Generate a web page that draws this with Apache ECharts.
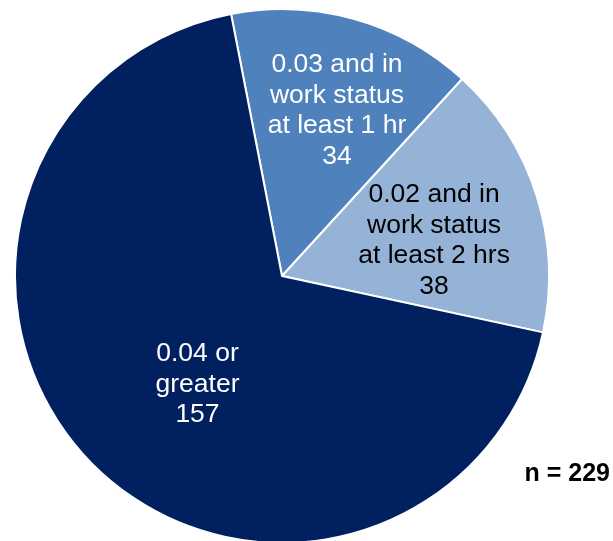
<!DOCTYPE html>
<html>
<head>
<meta charset="utf-8">
<script src="https://cdn.jsdelivr.net/npm/echarts@6/dist/echarts.min.js"></script>
<style>html,body{margin:0;padding:0;background:#fff}#c{width:613px;height:541px}</style>
</head>
<body>
<div id="c"></div>
<script>
const categories = ['0.03 and in\nwork status\nat least 1 hr', '0.02 and in\nwork status\nat least 2 hrs', '0.04 or\ngreater'];
const values = [34, 38, 157];
const colors = ['#4F81BD', '#95B3D7', '#002060'];
const labelColors = ['#ffffff', '#000000', '#ffffff'];
const totalLabel = 'n = 229';

const labelShift = [[18, -34], [22, 6], [13, 13]];

const chart = echarts.init(document.getElementById('c'), null, {renderer: 'canvas'});
chart.setOption({
  animation: false,
  backgroundColor: '#ffffff',
  graphic: [{
    type: 'text', right: 3, top: 462,
    style: {text: totalLabel, font: 'bold 25px "Liberation Sans", Arial, sans-serif', fill: '#000'}
  }],
  series: [{
    type: 'pie',
    center: [282, 276],
    radius: 267,
    startAngle: 101,
    clockwise: true,
    silent: true,
    data: categories.map((c, i) => ({
      name: c, value: values[i],
      itemStyle: {color: colors[i]},
      label: {color: labelColors[i]}
    })),
    itemStyle: {borderColor: '#ffffff', borderWidth: 2},
    label: {
      show: true, position: 'inside',
      formatter: p => p.name + '\n' + p.value,
      fontFamily: '"Liberation Sans", Arial, sans-serif',
      fontSize: 26.5, lineHeight: 30.5, align: 'center'
    },
    labelLine: {show: false},
    labelLayout: p => ({dx: labelShift[p.dataIndex][0], dy: labelShift[p.dataIndex][1]})
  }]
});
</script>
</body>
</html>
